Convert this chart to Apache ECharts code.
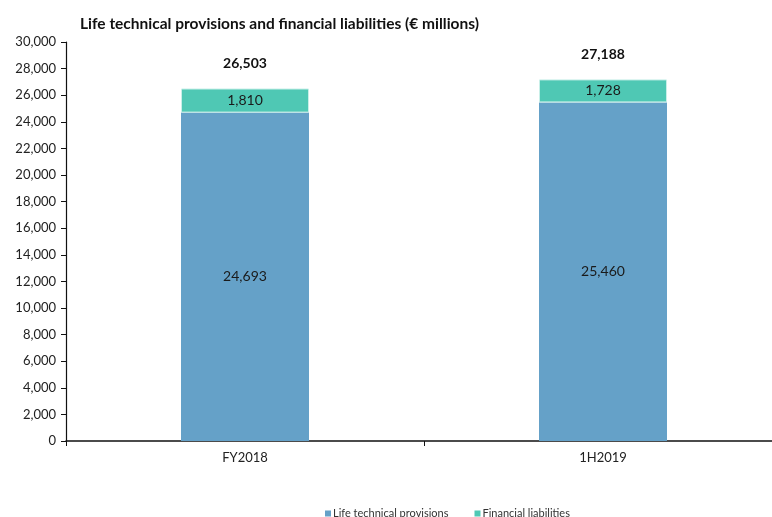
<!DOCTYPE html>
<html>
<head>
<meta charset="utf-8">
<script src="https://cdn.jsdelivr.net/npm/echarts@6/dist/echarts.min.js"></script>
<style>
  html, body { margin: 0; padding: 0; background: #fff; overflow: hidden; }
  #chart { width: 800px; height: 517px; }
</style>
</head>
<body>
<div id="chart"></div>
<script>
// Life technical provisions and financial liabilities, € millions
const categories = ['FY2018', '1H2019'];
const lifeProvisions = [24693, 25460];
const financialLiabilities = [1810, 1728];
const totals = [26503, 27188];
const yTicks = { min: 0, max: 30000, interval: 2000 };

const FONT = 'Lato, "Noto Sans", sans-serif';
const fmt = v => v.toLocaleString('en-US');

const chart = echarts.init(document.getElementById('chart'), null, { renderer: 'canvas' });

chart.setOption({
  animation: false,
  textStyle: { fontFamily: FONT },
  title: {
    text: 'Life technical provisions and financial liabilities (€ millions)',
    left: 75,
    top: 11,
    textStyle: { fontFamily: FONT, fontSize: 15.5, fontWeight: 'bold', color: '#111' }
  },
  legend: {
    bottom: -7,
    left: 320,
    itemWidth: 6,
    itemHeight: 6,
    itemGap: 26,
    icon: 'rect',
    itemStyle: { borderWidth: 0 },
    textStyle: { fontFamily: FONT, fontSize: 11, color: '#333', padding: [0, 0, 0, -3] },
    data: ['Life technical provisions', 'Financial liabilities']
  },
  // the plot runs a little past the right edge of the visible frame
  grid: { left: 66, right: 18, top: 42, bottom: 76 },
  xAxis: {
    type: 'category',
    data: categories,
    axisLine: { lineStyle: { color: '#111', width: 1.5 } },
    axisTick: { show: true, alignWithLabel: false, length: 5, lineStyle: { color: '#111' } },
    axisLabel: { fontFamily: FONT, fontSize: 13, color: '#222', margin: 10 }
  },
  yAxis: {
    type: 'value',
    min: yTicks.min,
    max: yTicks.max,
    interval: yTicks.interval,
    axisLine: { show: true, lineStyle: { color: '#111', width: 1.2 } },
    axisTick: { show: true, length: 5, lineStyle: { color: '#111' } },
    splitLine: { show: false },
    axisLabel: { fontFamily: FONT, fontSize: 13, color: '#222', margin: 10, formatter: v => fmt(v) }
  },
  series: [
    {
      name: 'Life technical provisions',
      type: 'bar',
      stack: 'total',
      barWidth: 128,
      data: lifeProvisions,
      itemStyle: { color: '#65A1C8' },
      label: {
        show: true,
        position: 'inside',
        fontFamily: FONT,
        fontSize: 14,
        color: '#1a1a1a',
        formatter: p => fmt(p.value)
      }
    },
    {
      name: 'Financial liabilities',
      type: 'bar',
      stack: 'total',
      data: financialLiabilities,
      itemStyle: { color: '#4FC8B4', borderColor: '#c8efe8', borderWidth: 1 },
      label: {
        show: true,
        position: 'inside',
        fontFamily: FONT,
        fontSize: 14,
        color: '#1a1a1a',
        formatter: p => fmt(p.value)
      }
    },
    {
      // totals printed above each stack
      name: 'Total',
      type: 'bar',
      stack: 'total',
      data: totals.map(() => 0),
      itemStyle: { color: 'transparent' },
      label: {
        show: true,
        position: 'top',
        distance: 18,
        fontFamily: FONT,
        fontSize: 14,
        fontWeight: 'bold',
        color: '#111',
        formatter: p => fmt(totals[p.dataIndex])
      },
      tooltip: { show: false }
    }
  ]
});
</script>
</body>
</html>
